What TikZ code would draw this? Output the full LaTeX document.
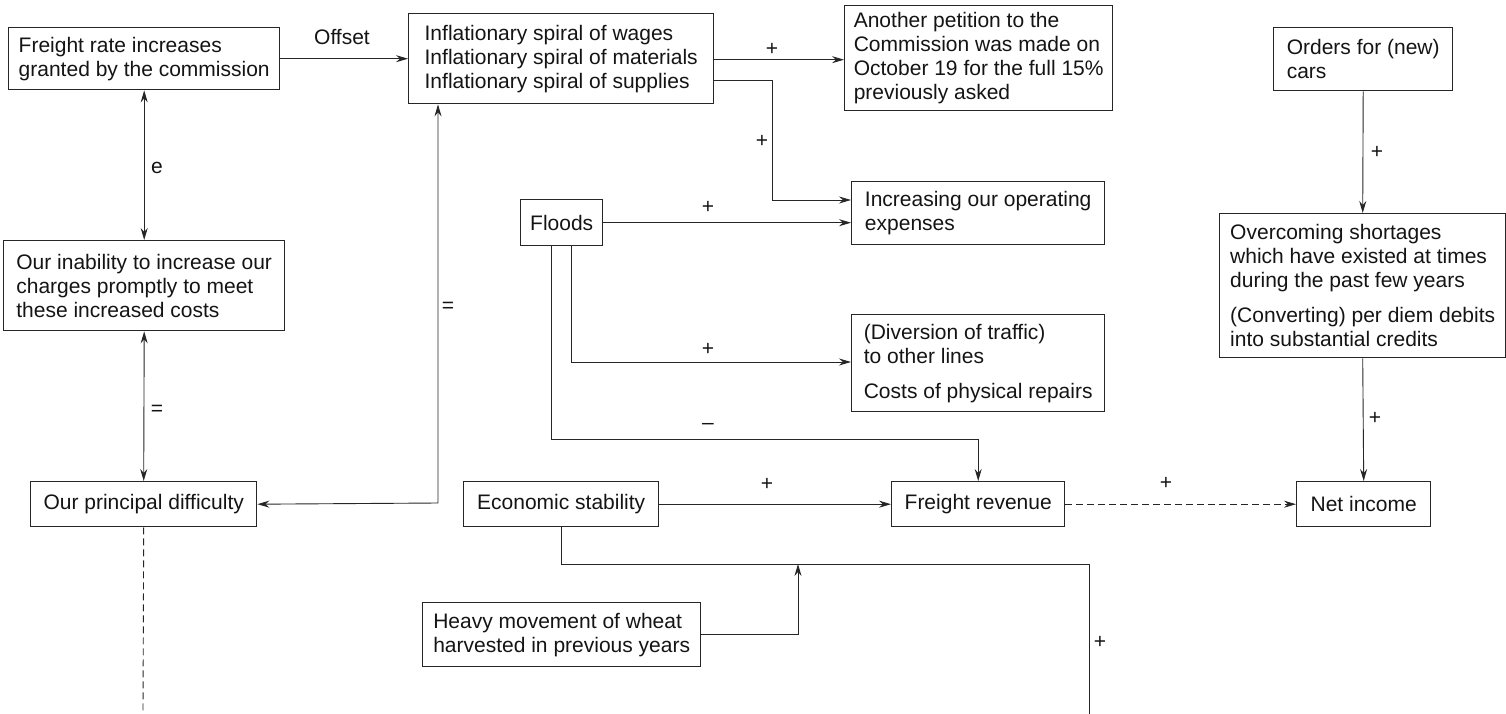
\documentclass[tikz,border=0pt]{standalone}
\usepackage{fontspec}
\setmainfont{Liberation Sans}
\usetikzlibrary{arrows.meta}
\begin{document}
\begin{tikzpicture}[x=1pt,y=-1pt,
  box/.style={draw=black!85, line width=1.4pt, text=black!92, anchor=north west,
    align=left, inner sep=0pt, font=\fontsize{21}{24}\selectfont},
  lbl/.style={text=black!92, inner sep=0pt, font=\fontsize{21}{24}\selectfont},
  link/.style={draw=black!85, line width=0.9pt},
  tip/.tip={Stealth[length=12pt,width=7pt,inset=4pt]},
  arr/.style={link, -tip},
  twoway/.style={link, tip-tip},
  dashlink/.style={link, dash pattern=on 7pt off 4pt}
]
\useasboundingbox (0,0) rectangle (1506,714);

% boxes
\node[box, minimum width=271pt, minimum height=62pt] (fr) at (8,27)
  {Freight rate increases\\granted by the commission};
\node[box, minimum width=305pt, minimum height=90pt] (infl) at (408,13)
  {Inflationary spiral of wages\\Inflationary spiral of materials\\Inflationary spiral of supplies};
\node[box, minimum width=268pt, minimum height=105pt] (pet) at (844,5)
  {Another petition to the\\Commission was made on\\October 19 for the full 15\%\\previously asked};
\node[box, minimum width=179pt, minimum height=63pt] (orders) at (1273,27)
  {Orders for (new)\\cars};
\node[box, minimum width=253pt, minimum height=63pt] (inc) at (851,181)
  {Increasing our operating\\expenses};
\node[box, minimum width=82pt, minimum height=46pt] (floods) at (520,199)
  {Floods};
\node[box, minimum width=281pt, minimum height=90pt] (inab) at (3,240)
  {Our inability to increase our\\charges promptly to meet\\these increased costs};
\node[box, minimum width=286pt, minimum height=144pt] (over) at (1219,213)
  {Overcoming shortages\\which have existed at times\\during the past few years\\[11pt](Converting) per diem debits\\into substantial credits};
\node[box, minimum width=253pt, minimum height=97pt] (div) at (851,314)
  {(Diversion of traffic)\\to other lines\\[11pt]Costs of physical repairs};
\node[box, minimum width=226pt, minimum height=45pt] (princ) at (30,481)
  {Our principal difficulty};
\node[box, minimum width=195pt, minimum height=45pt] (econ) at (463,481)
  {Economic stability};
\node[box, minimum width=173pt, minimum height=45pt] (frev) at (891,481)
  {Freight revenue};
\node[box, minimum width=134pt, minimum height=45pt] (net) at (1296,481)
  {Net income};
\node[box, minimum width=278pt, minimum height=64pt] (heavy) at (422,602)
  {Heavy movement of wheat\\harvested in previous years};

% bend points and loose ends
\coordinate (b1) at (772,200);
\coordinate (b2) at (571,362);
\coordinate (b3) at (551,439);
\coordinate (b4) at (438,503);
\coordinate (b5) at (561,564);
\coordinate (b6) at (1089,714);
\coordinate (b7) at (798,564);
\coordinate (d1) at (143,714);

% connectors
\draw[arr] (fr.east) -- (infl.west);
\draw[arr] ([yshift=-1pt]infl.east) -- ([yshift=-1pt]infl.east -| pet.west);
\draw[arr] ([yshift=-22pt]infl.east) -| (b1) -- (b1 -| inc.west);
\draw[arr] (floods.east) -- (floods.east -| inc.west);
\draw[arr] (b2 |- floods.south) -- (b2) -- (b2 -| div.west);
\draw[arr] (b3 |- floods.south) -- (b3) -| (frev.north);
\draw[twoway] (fr.south) -- (inab.north);
\draw[twoway] (inab.south) -- (princ.north);
\draw[dashlink] (princ.south) -- (d1);
\draw[twoway] (princ.east) -- (b4) -- (b4 |- infl.south);
\draw[arr] (econ.east) -- (frev.west);
\draw[dashlink, -tip] (frev.east) -- (net.west);
\draw[arr] (orders.south) -- (over.north);
\draw[arr] (over.south) -- (net.north);
\draw[link] (b5 |- econ.south) -- (b5) -| (b6);
\draw[arr] (heavy.east) -| (b7);

% link labels
\node[lbl] (l1) at (342,37) {Offset};
\node[lbl] (l2) at (772,49) {+};
\node[lbl] (l3) at (762,141) {+};
\node[lbl] (l4) at (708,207) {+};
\node[lbl] (l5) at (708,349) {+};
\node[lbl] (l6) at (708,426) {–};
\node[lbl] (l7) at (157,168) {e};
\node[lbl] (l8) at (157,410) {=};
\node[lbl] (l9) at (448,307) {=};
\node[lbl] (l10) at (767,484) {+};
\node[lbl] (l11) at (1166,483) {+};
\node[lbl] (l12) at (1377,152) {+};
\node[lbl] (l13) at (1375,418) {+};
\node[lbl] (l14) at (1100,642) {+};
\end{tikzpicture}
\end{document}
